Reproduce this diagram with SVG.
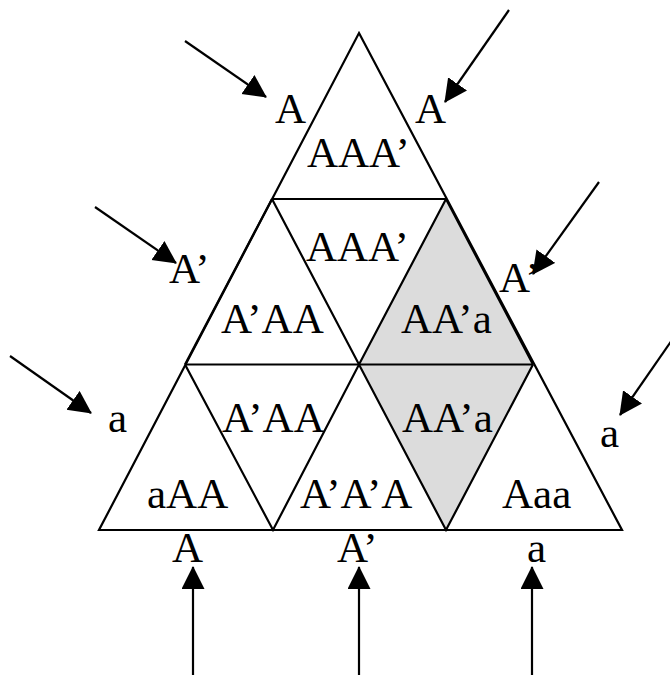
<svg xmlns="http://www.w3.org/2000/svg" width="670" height="675" viewBox="0 0 670 675">
<style>
.edge{fill:none;stroke:#000;stroke-width:2.2;stroke-linejoin:miter}
.lbl{font-family:"Liberation Serif","Times New Roman",serif;font-size:43px;fill:#000}
.arr{stroke:#000;stroke-width:2.2;fill:none;marker-end:url(#ah)}
</style>
<defs>
<marker id="ah" markerUnits="userSpaceOnUse" markerWidth="24" markerHeight="24" refX="22" refY="11.5" orient="auto">
<path d="M0,0 L23,11.5 L0,23 z" fill="#000"/>
</marker>
</defs>
<rect width="670" height="675" fill="#fff"/>
<g id="shade">
<polygon points="446,199 533,364.5 446,530 359,364.5" fill="#dcdcdc"/>
</g>
<g id="triangle">
<polygon class="edge" points="359,33 622,530 99,530"/>
<line class="edge" x1="272" y1="199" x2="446" y2="199"/>
<line class="edge" x1="185" y1="364.5" x2="533" y2="364.5"/>
<polyline class="edge" points="272,199 359,364.5 446,199 533,364.5"/>
<polyline class="edge" points="185,364.5 273,530 359,364.5 446,530 533,364.5"/>
<line class="edge" x1="272" y1="199" x2="185" y2="364.5"/>
</g>
<g id="cells">
<text class="lbl" x="307" y="167">AAA’</text>
<text class="lbl" x="306" y="261">AAA’</text>
<text class="lbl" x="221" y="333">A’AA</text>
<text class="lbl" x="401" y="333">AA’a</text>
<text class="lbl" x="222" y="432">A’AA</text>
<text class="lbl" x="402" y="432">AA’a</text>
<text class="lbl" x="147" y="508">aAA</text>
<text class="lbl" x="300" y="508">A’A’A</text>
<text class="lbl" x="502" y="508">Aaa</text>
</g>
<g id="outer-labels">
<text class="lbl" x="275" y="123">A</text>
<text class="lbl" x="415" y="123">A</text>
<text class="lbl" x="169" y="283">A’</text>
<text class="lbl" x="499" y="292">A’</text>
<text class="lbl" x="108" y="432">a</text>
<text class="lbl" x="600" y="447">a</text>
<text class="lbl" x="172" y="562">A</text>
<text class="lbl" x="337" y="562">A’</text>
<text class="lbl" x="527" y="562">a</text>
</g>
<g id="connectors">
<line class="arr" x1="185" y1="41" x2="266" y2="97"/>
<line class="arr" x1="95" y1="207" x2="176" y2="263"/>
<line class="arr" x1="10" y1="356" x2="91" y2="413"/>
<line class="arr" x1="509" y1="10" x2="445" y2="102"/>
<line class="arr" x1="599" y1="182" x2="533" y2="274"/>
<line class="arr" x1="672" y1="340" x2="620" y2="415"/>
<line class="arr" x1="193" y1="675" x2="193" y2="567"/>
<line class="arr" x1="359" y1="675" x2="359" y2="567"/>
<line class="arr" x1="532" y1="675" x2="532" y2="567"/>
</g>
</svg>
